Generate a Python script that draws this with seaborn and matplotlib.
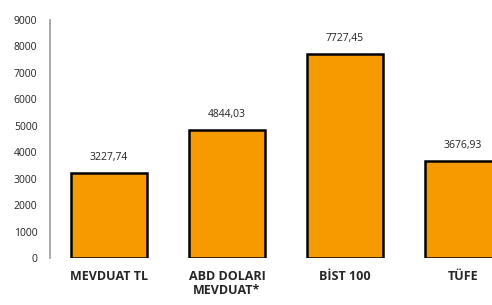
import matplotlib
matplotlib.use("Agg")
import matplotlib.pyplot as plt
import seaborn as sns
import pandas as pd

# data
categories = ["MEVDUAT TL", "ABD DOLARI\nMEVDUAT*", "BİST 100", "TÜFE"]
values = [3227.74, 4844.03, 7727.45, 3676.93]
value_labels = ["3227,74", "4844,03", "7727,45", "3676,93"]
yticks = [0, 1000, 2000, 3000, 4000, 5000, 6000, 7000, 8000, 9000]

sns.set_style("white")
plt.rcParams['font.family'] = ['Open Sans', 'DejaVu Sans']

df = pd.DataFrame({"cat": categories, "val": values})

fig = plt.figure(figsize=(4.92, 3.05), dpi=100)
ax = fig.add_axes([50 / 492, 1 - 258 / 305, 1 - 50 / 492, (258 - 20) / 305])

sns.barplot(data=df, x="cat", y="val", color="#F59B00", saturation=1,
            width=0.65, edgecolor="black", linewidth=1.8, ax=ax)

for i, (v, lab) in enumerate(zip(values, value_labels)):
    ax.text(i, v + 380, lab, ha="center", va="bottom", fontsize=7.5, color="#222222")

ax.set_ylim(0, 9000)
ax.set_xlim(-0.5, 3.246)
ax.set_yticks(yticks)
ax.set_yticklabels([str(t) for t in yticks], fontsize=7.5, color="#222222")
ax.tick_params(axis="y", length=0, pad=9)
ax.tick_params(axis="x", length=0, pad=9)
for lab in ax.get_xticklabels():
    lab.set_fontweight("bold")
    lab.set_fontsize(9)
    lab.set_linespacing(1.1)
ax.set_xlabel("")
ax.set_ylabel("")

for s in ["top", "right", "bottom"]:
    ax.spines[s].set_visible(False)
ax.spines["left"].set_color("#999999")
ax.spines["left"].set_linewidth(1.2)
ax.spines["left"].set_bounds(0, 9000)

fig.savefig("out.png", dpi=100)
